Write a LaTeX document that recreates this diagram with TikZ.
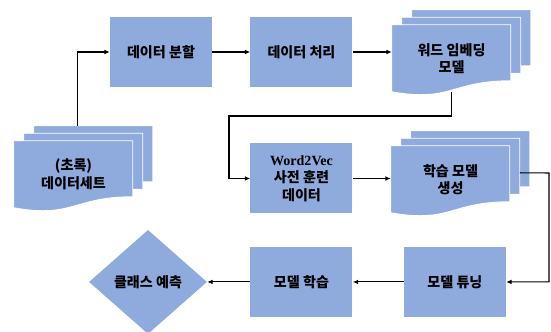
\documentclass[tikz,border=0pt]{standalone}
\usepackage{fontspec}
\setmainfont{Noto Sans CJK KR}
\newfontfamily\latinserif{Liberation Serif}
\usetikzlibrary{arrows.meta,positioning,shapes.geometric,backgrounds}
\definecolor{flowblue}{HTML}{8FAADC}

% three stacked wavy pages behind a docbox node
\newcommand\docstack[1]{%
  \begin{scope}[on background layer,shift={(#1.north west)}]
    \foreach \dx/\dy in {20/-15,10/-7.5,0/0}{
      \filldraw[docpage,shift={(\dx,\dy)}] (0,0) -- (119,0) -- (119,56)
        .. controls (59.5,56) and (59.5,77.7) .. (0,67) -- cycle;}
    \coordinate (#1-mid) at (129,27);
    \coordinate (#1-back) at (64,-15);
  \end{scope}}

\begin{document}
\begin{tikzpicture}[x=0.3mm,y=-0.3mm,
  stepbox/.style={fill=flowblue,draw=none,minimum width=30.6mm,
               minimum height=21mm,align=center,inner sep=1pt,
               font=\bfseries\fontsize{12}{15}\selectfont},
  docbox/.style={minimum width=35.7mm,minimum height=20.1mm,inner sep=0pt,
               align=center,font=\bfseries\fontsize{12}{15}\selectfont},
  docpage/.style={fill=flowblue,draw=white,line width=0.8pt},
  decide/.style={diamond,fill=flowblue,minimum width=35.4mm,
               minimum height=31.2mm,inner sep=0pt,aspect=1.13,
               font=\bfseries\fontsize{12}{15}\selectfont},
  arr/.style={-{Latex[length=1.6mm,width=1.4mm]},line width=0.9pt,black}]
  \useasboundingbox (0,0) rectangle (551,331);
  \node[stepbox] (split) at (161,52) {데이터 분할};
  \node[stepbox,right=11.4mm of split] (proc) {데이터 처리};
  \node[docbox] (embed) at (451.5,58.5) {워드 임베딩\\모델};
  \node[stepbox,below=16.8mm of proc] (w2v) {{\latinserif Word2Vec}\\사전 훈련\\데이터};
  \node[docbox] (learn) at (450.5,179.5) {학습 모델\\생성};
  \node[docbox] (data) at (73.5,174.5) {(초록)\\데이터세트};
  \node[stepbox,below=9.9mm of w2v] (train) {모델 학습};
  \node[stepbox,right=15.3mm of train] (tune) {모델 튜닝};
  \node[decide,left=12.9mm of train] (pred) {클래스 예측};
  \docstack{embed}
  \docstack{learn}
  \docstack{data}
  \coordinate (bend1) at (229,116);
  \coordinate (bend2) at (549,173);
  \draw[arr] (data-back) |- (split.west);
  \draw[arr] (split) -- (proc);
  \draw[arr] (proc.east) -- (proc.east -| embed.west);
  \draw[arr] (embed.south) |- (bend1) |- (w2v.west);
  \draw[arr] (w2v.east) -- (w2v.east -| learn.west);
  \draw[arr] (learn-mid) -- (bend2) |- (tune.east);
  \draw[arr] (tune) -- (train);
  \draw[arr] (train) -- (pred);
\end{tikzpicture}
\end{document}
